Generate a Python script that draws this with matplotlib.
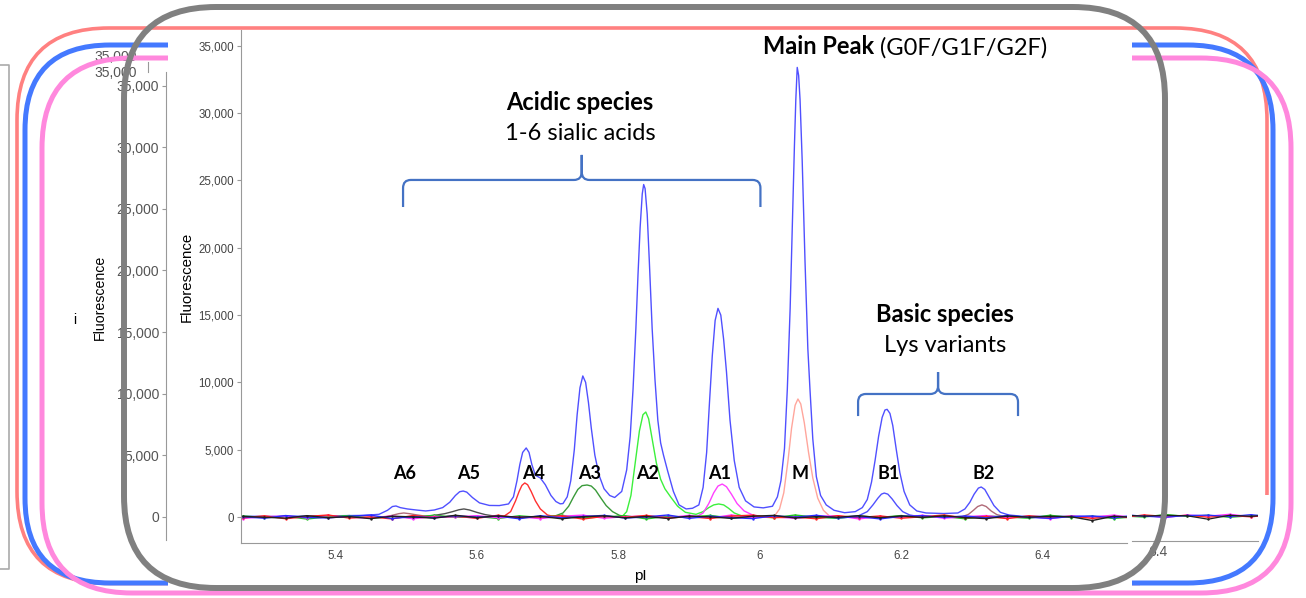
import matplotlib

matplotlib.use("Agg")

import matplotlib.pyplot as plt
from matplotlib.patches import FancyBboxPatch, PathPatch, Rectangle
from matplotlib.path import Path

W, H = 1306, 598

# ---- axis ticks -------------------------------------------------------------
Y_TICKS = [0, 5000, 10000, 15000, 20000, 25000, 30000, 35000]
Y_TICK_LABELS = ["0", "5,000", "10,000", "15,000", "20,000", "25,000", "30,000", "35,000"]
X_TICKS = [5.4, 5.6, 5.8, 6.0, 6.2, 6.4]
X_TICK_LABELS = ["5.4", "5.6", "5.8", "6", "6.2", "6.4"]

# ---- peak annotations -------------------------------------------------------
PEAK_NAMES = ["A6", "A5", "A4", "A3", "A2", "A1", "M", "B1", "B2"]
PEAK_LABEL_PI = [5.4975, 5.589, 5.680, 5.760, 5.841, 5.944, 6.057, 6.182, 6.316]
PEAK_LABEL_Y = 3270

# ---- electropherogram traces (pI, fluorescence) -----------------------------
BLUE_PI = [5.270, 5.320, 5.380, 5.440, 5.462, 5.474, 5.481, 5.486, 5.492, 5.502,
           5.515, 5.528, 5.540, 5.552, 5.562, 5.570, 5.576, 5.581, 5.586, 5.594,
           5.604, 5.618, 5.632, 5.645, 5.652, 5.657, 5.661, 5.665, 5.670, 5.674,
           5.678, 5.683, 5.690, 5.697, 5.705, 5.712, 5.718, 5.722, 5.728, 5.733,
           5.738, 5.742, 5.746, 5.750, 5.754, 5.758, 5.762, 5.767, 5.773, 5.780,
           5.788, 5.795, 5.805, 5.812, 5.817, 5.821, 5.825, 5.828, 5.831, 5.834,
           5.836, 5.838, 5.841, 5.844, 5.848, 5.852, 5.856, 5.860, 5.864, 5.870,
           5.878, 5.886, 5.896, 5.905, 5.914, 5.920, 5.925, 5.929, 5.933, 5.937,
           5.941, 5.945, 5.949, 5.953, 5.958, 5.964, 5.971, 5.980, 5.992, 6.005,
           6.018, 6.025, 6.030, 6.035, 6.039, 6.043, 6.046, 6.049, 6.051, 6.053,
           6.055, 6.057, 6.060, 6.064, 6.068, 6.071, 6.075, 6.080, 6.086, 6.094,
           6.105, 6.120, 6.135, 6.145, 6.152, 6.158, 6.163, 6.168, 6.173, 6.177,
           6.180, 6.184, 6.188, 6.193, 6.198, 6.204, 6.212, 6.222, 6.235, 6.260,
           6.280, 6.290, 6.297, 6.303, 6.309, 6.313, 6.318, 6.324, 6.331, 6.340,
           6.352, 6.370, 6.420, 6.520]
BLUE_FLUOR = [60, 40, 80, 120, 200, 500, 780, 820, 700, 600,
              520, 450, 520, 700, 1100, 1600, 1880, 1930, 1850, 1450,
              1050, 860, 850, 970, 1500, 2700, 3900, 4800, 5130, 4800,
              3900, 3100, 2900, 2400, 1600, 1150, 980, 1000, 1500, 2700,
              5000, 7600, 9600, 10480, 10000, 8500, 6600, 4600, 3100, 2100,
              1600, 1450, 1900, 3500, 6000, 9500, 14000, 18000, 21500, 24000,
              24700, 24400, 22500, 19000, 14000, 10200, 7200, 5500, 4600, 3400,
              1900, 900, 600, 650, 900, 2200, 4800, 8500, 12000, 14600,
              15500, 15000, 13200, 10800, 7200, 4200, 2200, 1200, 750, 680,
              800, 1500, 2700, 5100, 9500, 15500, 21500, 27500, 31000, 33400,
              32800, 31000, 26500, 19000, 12500, 9500, 5800, 3000, 1600, 900,
              500, 320, 400, 700, 1300, 2600, 4200, 6000, 7400, 7950,
              8000, 7700, 6800, 5000, 3300, 1900, 900, 450, 300, 260,
              300, 600, 1100, 1700, 2150, 2230, 2050, 1500, 850, 350,
              150, 60, 50, 40]

BLUE_B1_PI = [6.120, 6.140, 6.152, 6.160, 6.167, 6.172, 6.176, 6.181, 6.187, 6.194,
              6.202, 6.212, 6.225]
BLUE_B1_FLUOR = [0, 100, 400, 900, 1400, 1700, 1780, 1700, 1350, 850,
                 400, 150, 30]

GREY_PI = [5.520, 5.540, 5.555, 5.566, 5.575, 5.582, 5.590, 5.600, 5.612, 5.626,
           5.640]
GREY_FLUOR = [0, 120, 250, 400, 540, 600, 520, 350, 180, 60, 0]

MAUVE_PI = [5.470, 5.480, 5.490, 5.497, 5.505, 5.515, 5.528, 5.540, 6.285, 6.295,
            6.302, 6.308, 6.314, 6.320, 6.327, 6.335, 6.345]
MAUVE_FLUOR = [0, 120, 250, 300, 250, 160, 60, 0, 0, 200,
               500, 780, 900, 780, 450, 180, 40]

RED_PI = [5.638, 5.648, 5.655, 5.660, 5.664, 5.668, 5.672, 5.677, 5.683, 5.690,
          5.700, 5.712]
RED_FLUOR = [30, 400, 1200, 1900, 2350, 2530, 2400, 1900, 1200, 600, 150, 0]

DKGREEN_PI = [5.700, 5.712, 5.722, 5.730, 5.737, 5.743, 5.749, 5.756, 5.762, 5.768,
              5.775, 5.783, 5.792, 5.802, 5.812]
DKGREEN_FLUOR = [0, 100, 300, 800, 1500, 2050, 2330, 2380, 2300, 2000,
                 1450, 850, 400, 120, 20]

GREEN_PI = [5.805, 5.812, 5.818, 5.824, 5.830, 5.835, 5.839, 5.843, 5.848, 5.854,
            5.860, 5.866, 5.874, 5.884, 5.895, 5.910, 5.920, 5.928, 5.935, 5.942,
            5.949, 5.956, 5.964, 5.975, 5.990]
GREEN_FLUOR = [0, 400, 1600, 4000, 6400, 7600, 7800, 7300, 5800, 4000,
               2800, 2100, 1500, 800, 350, 200, 400, 700, 900, 970,
               900, 650, 300, 80, 0]

MAGENTA_PI = [5.910, 5.920, 5.928, 5.935, 5.941, 5.947, 5.953, 5.960, 5.968, 5.978,
              5.990, 6.005]
MAGENTA_FLUOR = [0, 300, 1000, 1800, 2300, 2450, 2250, 1700, 1000, 450, 150, 0]

SALMON_PI = [6.020, 6.028, 6.034, 6.040, 6.045, 6.050, 6.054, 6.058, 6.063, 6.069,
             6.075, 6.082, 6.090, 6.100]
SALMON_FLUOR = [0, 600, 1800, 4200, 6600, 8300, 8770, 8400, 7000, 4800,
                2900, 1400, 500, 0]

# baseline noise of the individual channels
BASELINE_PI = [5.27, 5.30, 5.33, 5.36, 5.39, 5.42, 5.45, 5.48, 5.51, 5.54, 5.57,
               5.60, 5.63, 5.66, 5.69, 5.72, 5.75, 5.78, 5.81, 5.84, 5.87, 5.90,
               5.93, 5.96, 5.99, 6.02, 6.05, 6.08, 6.11, 6.14, 6.17, 6.20, 6.23,
               6.26, 6.29, 6.32, 6.35, 6.38, 6.41, 6.44, 6.47, 6.50, 6.53, 6.56]
BASE_RED = [-60, 90, -130, 40, 150, -80, 20, -140, 110, -30, 70,
            -100, 130, -60, 10, 90, -150, 50, -20, 120, -80, 30,
            -110, 70, 140, -50, 0, -130, 100, -40, 80, -90, 20,
            150, -60, 40, -120, 90, -30, 60, -100, 30, -70, 110]
BASE_GREEN = [80, -40, 60, -150, 20, 110, -90, 40, -60, 140, -20,
              50, -110, 90, -30, 130, -70, 10, 100, -140, 60, -10,
              120, -80, 30, -50, 150, -20, -100, 70, -30, 110, -60,
              40, -130, 80, 0, -90, 130, -40, 60, -110, 20, 90]
BASE_BLUE = [20, -90, 110, -30, -70, 60, 140, -110, 30, -50, 90,
             -20, 70, -130, 100, -60, 40, 120, -80, 10, 150, -100,
             60, -40, -120, 90, -10, 130, -70, 30, -140, 50, 100,
             -30, 80, -60, 120, -20, -100, 40, 70, -50, 110, -80]
BASE_MAGENTA = [-110, 30, 70, -60, 120, -20, -80, 90, -130, 40, 10,
                100, -50, 20, -120, 60, 140, -90, 30, 70, -40, 120,
                -70, 150, -30, 10, -100, 60, 90, -140, 40, -20, 130,
                -90, 20, 110, -60, 50, -130, 80, -10, 140, -50, 30]
BASE_BLACK = [40, -20, -80, 100, -50, 30, -120, 60, 10, -90, 130,
              -40, 80, -10, 50, -130, 20, 90, -60, 40, -110, 70,
              10, -100, 60, 120, -70, 30, -20, 100, -50, 80, -30,
              90, -40, -120, 70, -10, 50, 20, -260, 60, -30, 100]

PEAK_TRACES = [
    (MAUVE_PI, MAUVE_FLUOR, "#b06a78"),
    (GREY_PI, GREY_FLUOR, "#505050"),
    (RED_PI, RED_FLUOR, "#ff3030"),
    (DKGREEN_PI, DKGREEN_FLUOR, "#3a9a3a"),
    (GREEN_PI, GREEN_FLUOR, "#3cf03c"),
    (MAGENTA_PI, MAGENTA_FLUOR, "#ff40ff"),
    (SALMON_PI, SALMON_FLUOR, "#ffa69c"),
    (BLUE_B1_PI, BLUE_B1_FLUOR, "#5050ff"),
    (BLUE_PI, BLUE_FLUOR, "#5050ff"),
]
BASELINE_TRACES = [
    (BASE_GREEN, "#22c422"),
    (BASE_MAGENTA, "#ff30ff"),
    (BASE_RED, "#ff2222"),
    (BASE_BLUE, "#2a2aff"),
    (BASE_BLACK, "#202020"),
]

AXIS_FONT = "Liberation Sans"
NOTE_FONT = "Lato"
BRACE_COLOR = "#4472c4"


def fig_box(left, top, right, bottom):
    return [left / W, (H - bottom) / H, (right - left) / W, (bottom - top) / H]


def rounded_frame(ax, left, top, right, bottom, color, lw, radius, z):
    patch = FancyBboxPatch(
        (left, top), right - left, bottom - top,
        boxstyle=f"round,pad=0,rounding_size={radius}",
        fill=False, edgecolor=color, linewidth=lw, zorder=z,
    )
    ax.add_patch(patch)
    return patch


def brace(ax, x0, x1, y_bar, y_end, y_tip, rx, ry):
    xm = (x0 + x1) / 2
    verts = [
        (x0, y_end), (x0, y_bar - ry), (x0, y_bar), (x0 + rx, y_bar),
        (xm - rx, y_bar), (xm, y_bar), (xm, y_bar + ry), (xm, y_tip),
        (xm, y_bar + ry), (xm, y_bar), (xm + rx, y_bar),
        (x1 - rx, y_bar), (x1, y_bar), (x1, y_bar - ry), (x1, y_end),
    ]
    codes = [
        Path.MOVETO, Path.LINETO, Path.CURVE3, Path.CURVE3,
        Path.LINETO, Path.CURVE3, Path.CURVE3, Path.LINETO,
        Path.LINETO, Path.CURVE3, Path.CURVE3,
        Path.LINETO, Path.CURVE3, Path.CURVE3, Path.LINETO,
    ]
    ax.add_patch(PathPatch(Path(verts, codes), fill=False, edgecolor=BRACE_COLOR,
                           linewidth=1.6, capstyle="butt", zorder=5))


def draw_baselines(ax, lw=1.0):
    for values, color in BASELINE_TRACES:
        ax.plot(BASELINE_PI, values, color=color, lw=lw, marker=".", ms=1.4,
                zorder=4)


fig = plt.figure(figsize=(W / 100, H / 100), dpi=100)
fig.patch.set_facecolor("white")

# full-figure canvas in pixel units for the stacked slide frames
ax_under = fig.add_axes([0, 0, 1, 1], zorder=0)
ax_under.set_xlim(0, W)
ax_under.set_ylim(H, 0)
ax_under.axis("off")
px = ax_under.transData

# tick labels of slides further back, partly hidden
for y, (c_top, c_bot) in ((57, (45, 57)), (73, (68, 85))):
    t = ax_under.text(116, y, "35,000", ha="center", va="center", fontsize=10,
                      color="#555555", family=AXIS_FONT, zorder=1)
    t.set_clip_path(Rectangle((60, c_top), 120, c_bot - c_top, transform=px))
ax_under.plot([148, 148], [62, 72], color="#999999", lw=0.8, zorder=1)
ax_under.plot([0, 9, 9, 0], [65, 65, 569, 569], color="#aaaaaa", lw=1.2, zorder=1)

red = rounded_frame(ax_under, 17, 28, 1267, 583.5, "#ff8080", 2.6, 92, 2)
red_clip = Path([(0, 0), (W, 0), (W, 495), (1140, 495), (1140, H), (0, H), (0, 0)])
red.set_clip_path(red_clip, px)
rounded_frame(ax_under, 25, 45, 1273, 583, "#4479ff", 3.6, 85, 3)
rounded_frame(ax_under, 42, 58, 1291, 593, "#ff88dd", 3.6, 90, 4)
ax_under.add_patch(Rectangle((168, 31), 1132 - 168, 586 - 31, facecolor="white",
                             edgecolor="none", zorder=5))

ax_under.text(75, 320, "i", ha="center", va="center", fontsize=10,
              family=AXIS_FONT, zorder=6)
ax_under.text(100, 297, "Fluorescence", ha="center", va="center", fontsize=10.2,
              rotation=90, family=AXIS_FONT, zorder=6)

# axis of the slide underneath (only its tick column shows)
ax_back = fig.add_axes(fig_box(166, 72, 168, 540), zorder=1)
ax_back.patch.set_visible(False)
ax_back.set_ylim(-1870, 36100)
ax_back.set_xticks([])
ax_back.set_yticks(Y_TICKS)
ax_back.set_yticklabels(Y_TICK_LABELS)
for side in ("top", "right", "bottom"):
    ax_back.spines[side].set_visible(False)
ax_back.spines["left"].set_color("#999999")
ax_back.tick_params(axis="y", labelsize=10, labelcolor="#555555", color="#999999",
                    length=3, pad=2)
for lab in ax_back.get_yticklabels():
    lab.set_family(AXIS_FONT)

# small piece of another electropherogram at the bottom right
ax_frag = fig.add_axes(fig_box(1132, 495, 1258, 541), zorder=1)
ax_frag.patch.set_visible(False)
ax_frag.set_xlim(6.363, 6.540)
ax_frag.set_ylim(-2025, 1700)
draw_baselines(ax_frag, lw=0.9)
ax_frag.set_yticks([])
ax_frag.set_xticks([6.4])
ax_frag.set_xticklabels(["6.4"])
for side in ("top", "right", "left"):
    ax_frag.spines[side].set_visible(False)
ax_frag.spines["bottom"].set_color("#999999")
ax_frag.tick_params(axis="x", labelsize=10, labelcolor="#555555", length=0, pad=3)
for lab in ax_frag.get_xticklabels():
    lab.set_family(AXIS_FONT)

# main electropherogram
ax = fig.add_axes(fig_box(241, 30, 1127, 543), zorder=2)
ax.patch.set_visible(False)
ax.set_xlim(5.267, 6.519)
ax.set_ylim(-1930, 36180)
for pi, fl, color in PEAK_TRACES:
    ax.plot(pi, fl, color=color, lw=1.0, zorder=3)
draw_baselines(ax)

ax.set_xticks(X_TICKS)
ax.set_xticklabels(X_TICK_LABELS)
ax.set_yticks(Y_TICKS)
ax.set_yticklabels(Y_TICK_LABELS)
for side in ("top", "right"):
    ax.spines[side].set_visible(False)
for side in ("left", "bottom"):
    ax.spines[side].set_color("#999999")
ax.tick_params(axis="y", labelsize=8.3, labelcolor="#444444", color="#999999",
               length=3, pad=2)
ax.tick_params(axis="x", labelsize=8.3, labelcolor="#444444", length=0, pad=5)
for lab in ax.get_xticklabels() + ax.get_yticklabels():
    lab.set_family(AXIS_FONT)

ax.text(187, 277, "Fluorescence", transform=px, rotation=90, ha="center",
        va="center", fontsize=10.8, family=AXIS_FONT)
ax.text(640, 576, "pI", transform=px, ha="center", va="center", fontsize=11,
        family=AXIS_FONT)

for name, x in zip(PEAK_NAMES, PEAK_LABEL_PI):
    ax.text(x, PEAK_LABEL_Y, name, ha="center", va="center", fontsize=13,
            fontweight="bold", family=NOTE_FONT, zorder=6)

ax.text(580, 103, "Acidic species", transform=px, ha="center", va="center",
        fontsize=17, fontweight="bold", family=NOTE_FONT)
ax.text(580, 134, "1-6 sialic acids", transform=px, ha="center", va="center",
        fontsize=17, family=NOTE_FONT)
ax.text(945, 314, "Basic species", transform=px, ha="center", va="center",
        fontsize=17, fontweight="bold", family=NOTE_FONT)
ax.text(945, 346, "Lys variants", transform=px, ha="center", va="center",
        fontsize=17, family=NOTE_FONT)
main = ax.text(763, 47, "Main Peak", transform=px, ha="left", va="center",
               fontsize=17, fontweight="bold", family=NOTE_FONT)
ax.annotate(" (G0F/G1F/G2F)", xy=(1, 0), xycoords=main, ha="left", va="bottom",
            fontsize=17, family=NOTE_FONT)

brace(ax, 5.496, 6.001, 25040, 23030, 26900, 0.011, 600)
brace(ax, 6.139, 6.365, 9140, 7500, 10770, 0.011, 600)

# grey frame around the front slide
ax_over = fig.add_axes([0, 0, 1, 1], zorder=3)
ax_over.set_xlim(0, W)
ax_over.set_ylim(H, 0)
ax_over.axis("off")
ax_over.patch.set_visible(False)
rounded_frame(ax_over, 124, 7, 1165, 588, "#808080", 4.3, 92, 2)

fig.savefig("out.png", dpi=100)
